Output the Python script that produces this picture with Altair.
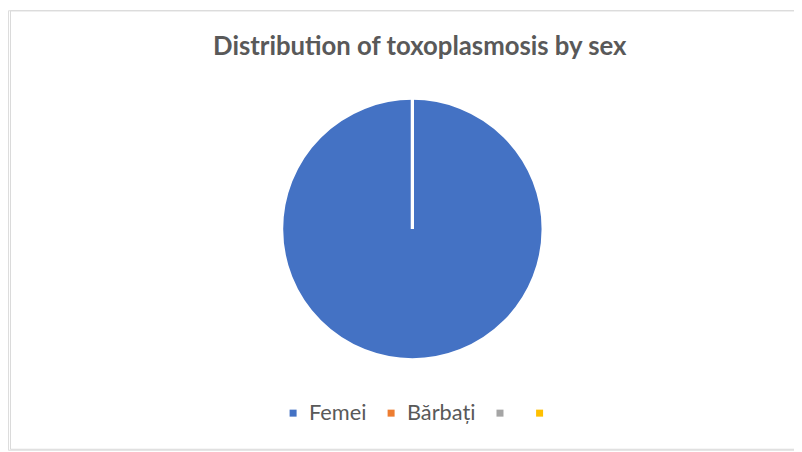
import altair as alt
import pandas as pd

categories = ["Femei", "Bărbați", " ", "  "]
values = [100, 0, 0, 0]
colors = ["#4472C4", "#ED7D31", "#A5A5A5", "#FFC000"]
title_text = ["Distribution of toxoplasmosis by sex"]

W, H = 794, 444

df = pd.DataFrame({"category": categories, "value": values, "order": list(range(len(categories)))})
tdf = pd.DataFrame({"t": title_text})

border_df = pd.DataFrame({"k": [0]})

pie = alt.Chart(df).mark_arc(
    radius=132, stroke="white", strokeWidth=3, x=408.5, y=221
).encode(
    theta=alt.Theta("value:Q", stack=True),
    color=alt.Color(
        "category:N",
        sort=categories,
        scale=alt.Scale(domain=categories, range=colors),
        legend=alt.Legend(
            orient="none", direction="horizontal", legendX=277, legendY=396,
            title=None, symbolType="square", symbolSize=50, symbolStrokeWidth=0,
            labelFont="Lato", labelFontSize=22, labelColor="#595959",
            columnPadding=13, labelOffset=5, padding=0, columns=4,
        ),
    ),
    order=alt.Order("order:Q"),
)

title = alt.Chart(tdf).mark_text(
    font="Lato", fontSize=26, fontWeight="bold", color="#595959", baseline="alphabetic", align="center"
).encode(x=alt.value(416), y=alt.value(45), text="t:N")

left = alt.Chart(border_df).mark_rule(color="#D9D9D9", strokeWidth=1).encode(
    x=alt.value(2.5), y=alt.value(0.5), y2=alt.value(H - 0.5))
top = alt.Chart(border_df).mark_rule(color="#D9D9D9", strokeWidth=1).encode(
    x=alt.value(2.5), x2=alt.value(W), y=alt.value(0.5))
bottom = alt.Chart(border_df).mark_rule(color="#D9D9D9", strokeWidth=1).encode(
    x=alt.value(2.5), x2=alt.value(W), y=alt.value(H - 0.5))

chart = alt.layer(left, top, bottom, pie, title).properties(
    width=W, height=H, padding=0, autosize=alt.AutoSizeParams(type="none"),
).configure_view(stroke=None).configure(background="white")

chart.save("out.html", embed_options={"renderer": "svg", "actions": False})
